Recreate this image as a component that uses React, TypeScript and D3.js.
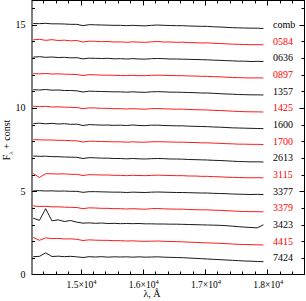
import React, { useEffect, useRef } from "react";
import * as d3 from "d3";

// wavelength grid (Angstrom) shared by all spectra
const wavelengths = d3.range(14240, 18000, 100);

const stars = ["comb", "0584", "0636", "0897", "1357", "1425", "1600", "1700", "2613", "3115", "3377", "3379", "3423", "4415", "7424"];
const offsets = [14, 13, 12, 11, 10, 9, 8, 7, 6, 5, 4, 3, 2, 1, 0];

// normalized flux
const fComb = [1.06,1.05,1.07,1.04,1.04,1.03,1.01,1.01,0.93,0.99,0.98,0.97,0.96,0.95,0.95,0.93,0.95,0.93,0.92,0.95,0.97,0.95,0.94,0.93,0.93,0.91,0.90,0.89,0.89,0.86,0.85,0.83,0.81,0.80,0.79,0.78,0.78,0.76];
const f0584 = [1.08,1.11,1.05,1.09,1.04,1.06,1.02,1.04,0.95,1.00,0.99,0.97,0.98,0.95,0.96,0.93,0.96,0.94,0.93,0.96,0.98,0.95,0.95,0.93,0.94,0.91,0.91,0.89,0.90,0.87,0.86,0.84,0.82,0.81,0.80,0.79,0.79,0.78];
const f0636 = [1.04,1.07,1.03,1.05,1.02,1.03,1.00,1.01,0.94,0.98,0.97,0.96,0.97,0.94,0.95,0.93,0.95,0.93,0.92,0.95,0.96,0.95,0.93,0.93,0.92,0.91,0.90,0.89,0.88,0.86,0.85,0.83,0.82,0.80,0.80,0.78,0.79,0.78];
const f0897 = [1.05,1.04,1.06,1.03,1.04,1.02,1.01,1.00,0.94,0.99,0.98,0.96,0.96,0.95,0.94,0.93,0.95,0.93,0.93,0.95,0.96,0.95,0.94,0.93,0.93,0.91,0.91,0.89,0.89,0.87,0.86,0.84,0.82,0.81,0.80,0.79,0.80,0.79];
const f1357 = [1.09,1.07,1.10,1.06,1.07,1.04,1.04,1.02,0.95,1.00,0.99,0.98,0.97,0.96,0.96,0.94,0.96,0.94,0.93,0.96,0.97,0.96,0.94,0.94,0.93,0.92,0.91,0.89,0.89,0.87,0.85,0.83,0.82,0.80,0.79,0.78,0.78,0.77];
const f1425 = [1.10,1.07,1.09,1.05,1.06,1.04,1.03,1.02,0.95,1.00,0.99,0.97,0.97,0.95,0.95,0.93,0.95,0.93,0.92,0.95,0.96,0.94,0.93,0.92,0.92,0.90,0.89,0.88,0.87,0.85,0.84,0.82,0.80,0.78,0.77,0.76,0.76,0.75];
const f1600 = [1.05,1.08,1.04,1.07,1.03,1.05,1.01,1.02,0.94,0.99,0.98,0.96,0.97,0.95,0.96,0.94,0.97,0.94,0.93,0.96,0.96,0.94,0.93,0.92,0.92,0.90,0.89,0.88,0.87,0.85,0.84,0.82,0.80,0.79,0.78,0.77,0.76,0.75];
const f1700 = [1.09,1.08,1.07,1.07,1.05,1.05,1.03,1.02,0.95,1.00,0.99,0.98,0.97,0.96,0.96,0.94,0.96,0.94,0.94,0.96,0.97,0.96,0.95,0.94,0.94,0.92,0.92,0.90,0.90,0.88,0.87,0.85,0.84,0.82,0.82,0.81,0.81,0.80];
const f2613 = [1.11,1.09,1.10,1.07,1.07,1.05,1.04,1.03,0.96,1.01,1.00,0.98,0.98,0.96,0.96,0.94,0.96,0.94,0.93,0.95,0.96,0.95,0.93,0.93,0.92,0.90,0.89,0.88,0.87,0.85,0.84,0.82,0.80,0.78,0.77,0.76,0.76,0.75];
const f3115 = [1.06,0.82,1.05,1.04,1.03,1.04,1.01,1.01,0.94,0.99,0.98,0.97,0.97,0.95,0.95,0.93,0.95,0.94,0.93,0.95,0.96,0.95,0.94,0.93,0.93,0.91,0.91,0.89,0.89,0.87,0.86,0.84,0.83,0.82,0.81,0.80,0.81,0.80];
const f3377 = [1.02,1.03,1.01,1.02,1.00,1.01,0.99,0.99,0.93,0.97,0.97,0.96,0.95,0.94,0.94,0.92,0.94,0.93,0.92,0.94,0.95,0.94,0.93,0.92,0.92,0.91,0.90,0.89,0.89,0.87,0.86,0.85,0.83,0.82,0.81,0.80,0.81,0.80];
const f3379 = [1.12,1.08,1.09,1.06,1.06,1.04,1.03,1.02,0.95,1.00,0.99,0.97,0.97,0.95,0.95,0.93,0.95,0.93,0.92,0.95,0.96,0.94,0.93,0.92,0.92,0.90,0.89,0.88,0.88,0.86,0.85,0.83,0.81,0.79,0.78,0.77,0.77,0.76];
const f3423 = [1.38,1.25,1.95,1.22,1.28,1.18,1.24,1.14,1.08,1.10,1.07,1.09,1.06,1.07,1.05,1.06,1.05,1.06,1.04,1.04,1.03,1.03,1.02,1.02,1.01,1.00,0.99,0.98,0.97,0.96,0.95,0.93,0.90,0.87,0.84,0.82,0.80,0.98];
const f4415 = [1.23,1.05,1.20,1.15,1.17,1.13,1.14,1.11,1.04,1.08,1.06,1.05,1.05,1.03,1.03,1.01,1.02,1.00,0.99,1.00,1.01,0.99,0.98,0.97,0.96,0.94,0.93,0.91,0.90,0.88,0.87,0.85,0.83,0.81,0.80,0.79,0.78,0.77];
const f7424 = [1.07,1.09,1.30,1.08,1.10,1.07,1.09,1.06,1.02,1.07,1.05,1.07,1.04,1.06,1.05,1.06,1.04,1.06,1.04,1.05,1.06,1.04,1.03,1.02,1.01,0.99,0.97,0.95,0.93,0.91,0.89,0.87,0.85,0.83,0.81,0.80,0.78,0.77];

const fluxes = [fComb, f0584, f0636, f0897, f1357, f1425, f1600, f1700, f2613, f3115, f3377, f3379, f3423, f4415, f7424];

const xTicks = [15000, 16000, 17000, 18000];
const xTickLabels = ["1.5", "1.6", "1.7", "1.8"];
const yTicks = [0, 5, 10, 15];

const App = () => {
  const svgRef = useRef(null);
  const width = 306;
  const height = 301;

  useEffect(() => {
    const margin = { top: 0.5, right: 1.5, bottom: 26.5, left: 32 };
    const svg = d3.select(svgRef.current);
    svg.selectAll("*").remove();

    const x = d3.scaleLinear().domain([14220, 18600]).range([margin.left, width - margin.right]);
    const y = d3.scaleLinear().domain([0, 16.44]).range([height - margin.bottom, margin.top]);

    const x0 = margin.left, x1 = width - margin.right;
    const y0 = height - margin.bottom, y1 = margin.top;

    svg.append("clipPath").attr("id", "plotclip")
      .append("rect").attr("x", x0).attr("y", y1).attr("width", x1 - x0).attr("height", y0 - y1);

    // spectra
    const line = d3.line<number>().x((d, i) => x(wavelengths[i])).y((d) => y(d));
    const g = svg.append("g").attr("clip-path", "url(#plotclip)");
    fluxes.forEach((f, k) => {
      g.append("path")
        .attr("d", line(f.map((v) => v + offsets[k])))
        .attr("fill", "none")
        .attr("stroke", k % 2 === 0 ? "#000" : "#ff0000")
        .attr("stroke-width", 0.9)
        .attr("stroke-linejoin", "round");
    });

    // star labels
    svg.append("g").selectAll("text").data(stars).join("text")
      .attr("x", 273)
      .attr("y", (d, k) => y(offsets[k] + 1) + 3.5)
      .attr("fill", (d, k) => (k % 2 === 0 ? "#000" : "#ff0000"))
      .style("font-family", "'Liberation Serif', serif")
      .style("font-size", "10px")
      .text((d) => d);

    // frame
    svg.append("rect").attr("x", x0).attr("y", y1).attr("width", x1 - x0).attr("height", y0 - y1)
      .attr("fill", "none").attr("stroke", "#000").attr("stroke-width", 1);

    const ticks = svg.append("g").attr("stroke", "#000").attr("stroke-width", 1);
    // x ticks (inward, top and bottom)
    d3.range(14400, 18600, 200).forEach((t) => {
      const len = t % 1000 === 0 ? 5 : 3;
      const px = Math.round(x(t)) + 0.5;
      ticks.append("line").attr("x1", px).attr("x2", px).attr("y1", y0).attr("y2", y0 - len);
      ticks.append("line").attr("x1", px).attr("x2", px).attr("y1", y1).attr("y2", y1 + len);
    });
    // y ticks (inward, left and right)
    d3.range(1, 17, 1).forEach((t) => {
      if (t > 16.4) return;
      const len = t % 5 === 0 ? 5 : 3;
      const py = Math.round(y(t)) + 0.5;
      ticks.append("line").attr("x1", x0).attr("x2", x0 + len).attr("y1", py).attr("y2", py);
      ticks.append("line").attr("x1", x1).attr("x2", x1 - len).attr("y1", py).attr("y2", py);
    });

    // y tick labels
    svg.append("g").selectAll("text").data(yTicks).join("text")
      .attr("x", 25.5)
      .attr("y", (d) => y(d) + 3.5)
      .attr("text-anchor", "end")
      .style("font-family", "'Liberation Serif', serif")
      .style("font-size", "10px")
      .text((d) => d);

    // x tick labels with superscript exponent
    const xl = svg.append("g").selectAll("text").data(xTicks).join("text")
      .attr("x", (d) => x(d) + 1)
      .attr("y", 287.5)
      .attr("text-anchor", "middle")
      .style("font-family", "'Liberation Serif', serif")
      .style("font-size", "9.5px");
    xl.append("tspan").text((d, i) => xTickLabels[i] + "\u00d710");
    xl.append("tspan").attr("dy", -4).style("font-size", "6.5px").text("4");

    // axis titles
    svg.append("text")
      .attr("x", 152).attr("y", 297)
      .attr("text-anchor", "middle")
      .style("font-family", "'Liberation Serif', serif")
      .style("font-size", "10px")
      .text("\u03bb, \u00c5");

    const yt = svg.append("text")
      .attr("transform", "translate(10,140) rotate(-90)")
      .attr("text-anchor", "middle")
      .style("font-family", "'Liberation Serif', serif")
      .style("font-size", "10px");
    yt.append("tspan").text("F");
    yt.append("tspan").attr("dy", 2.5).style("font-size", "7px").text("\u03bb");
    yt.append("tspan").attr("dy", -2.5).text(" + const");
  }, []);

  return (
    <svg
      ref={svgRef}
      width={width}
      height={height}
      style={{ position: "absolute", left: 0, top: 0, background: "#fff" }}
    ></svg>
  );
};

export default App;
